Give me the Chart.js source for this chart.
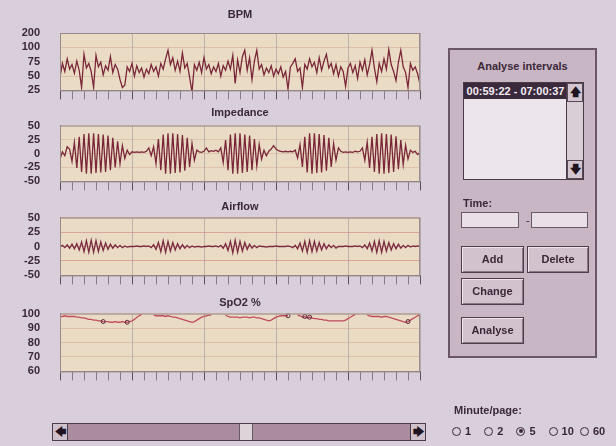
<!DOCTYPE html>
<html lang="en">
<head>
    <meta charset="UTF-8">
    <title>Analyse intervals</title>
    <style>
        body { margin: 0; width: 616px; height: 446px; overflow: hidden; position: relative;
               background: #d9cfdb; font-family: "Liberation Sans", Arial, sans-serif; color: #3a2838; }
        .plot { position: absolute; left: 0; }
        #panel { position: absolute; left: 448px; top: 48px; width: 145px; height: 306px;
                 background: #c9b6c5; border: 2px solid #6a5666; }
        #panel div { position: absolute; }
        .ptitle { left: 0; width: 145px; top: 10px; text-align: center; font-weight: bold; font-size: 11px; }
        .listbox { left: 13px; top: 32px; width: 119px; height: 96px; background: #ece6ec; border: 1px solid #4a3a48; }
        .sel { left: 0; top: 0; width: 103px; height: 16px; background: #3b2a3e; color: #f2ecf2;
               font-size: 11px; font-weight: bold; line-height: 16px; text-align: center; }
        .vbar { right: 0; top: 0; width: 16px; height: 96px; background: #d8ced6; border-left: 1px solid #4a3a48; }
        .arrow { left: 0; width: 14px; height: 17px; background: #d3c6d0; border: 1px solid #5a4a58;
                 font-family: "DejaVu Sans", sans-serif; font-size: 11px; font-weight: bold; text-align: center;
                 line-height: 17px; color: #201420; }
        .lbl { font-weight: bold; font-size: 11px; }
        .inp { height: 14px; background: #e8e0e6; border: 1px solid #6a5866; }
        .btn { height: 25px; background: #d2c2ce; border: 1px solid #4e3e4c; box-shadow: inset 1px 1px 0 #eee4ea, inset -1px -1px 0 #8a7686;
               font-weight: bold; font-size: 11px; text-align: center; line-height: 25px; }
        #minute { position: absolute; left: 454px; top: 404px; font-weight: bold; font-size: 11px; }
        #radios { position: absolute; left: 452px; top: 424px; font-weight: bold; font-size: 11px; white-space: nowrap; }
        #radios span { display: inline-block; vertical-align: middle; }
        .rb { width: 7px; height: 7px; border: 1.5px solid #3a2838; border-radius: 50%; margin-right: 4px; position: relative; }
        .rb.on::after { content: ""; position: absolute; left: 1.5px; top: 1.5px; width: 4px; height: 4px; border-radius: 50%; background: #3a2838; }
        .rt { margin-right: 10px; }
        #hscroll { position: absolute; left: 52px; top: 423px; width: 372px; height: 16px; background: #a98c9d; border: 1px solid #4e3c4c; }
        #hscroll div { position: absolute; top: 0; height: 16px; }
        .harrow { width: 14px; background: #cfc2cc; border-right: 1px solid #4e3c4c; font-family: "DejaVu Sans", sans-serif;
                  font-size: 11px; font-weight: bold; text-align: center; line-height: 16px; color: #201420; }
    </style>
</head>
<body>

    <div class="plot" id="bpmBox" style="top:5px"><canvas id="bpmChart" width="430" height="97"></canvas></div>
    <div class="plot" id="impBox" style="top:104px"><canvas id="impChart" width="430" height="90"></canvas></div>
    <div class="plot" id="airBox" style="top:198px"><canvas id="airChart" width="430" height="90"></canvas></div>
    <div class="plot" id="spoBox" style="top:294px"><canvas id="spoChart" width="430" height="90"></canvas></div>

    <div id="panel">
        <div class="ptitle">Analyse intervals</div>
        <div class="listbox">
            <div class="sel">00:59:22 - 07:00:37</div>
            <div class="vbar">
                <div class="arrow" style="top:0">&#129093;</div>
                <div class="arrow" style="top:77px">&#129095;</div>
            </div>
        </div>
        <div class="lbl" style="left:13px;top:147px">Time:</div>
        <div class="inp" style="left:11px;top:162px;width:56px"></div>
        <div class="lbl" style="left:76px;top:164px;font-weight:normal">-</div>
        <div class="inp" style="left:81px;top:162px;width:55px"></div>
        <div class="btn" style="left:11px;top:196px;width:61px">Add</div>
        <div class="btn" style="left:77px;top:196px;width:60px">Delete</div>
        <div class="btn" style="left:11px;top:228px;width:61px">Change</div>
        <div class="btn" style="left:11px;top:267px;width:61px">Analyse</div>
    </div>

    <div id="minute">Minute/page:</div>
    <div id="radios">
        <span class="rb"></span><span class="rt">1</span>
        <span class="rb"></span><span class="rt">2</span>
        <span class="rb on"></span><span class="rt">5</span>
        <span class="rb"></span><span class="rt" style="margin-right:3px">10</span>
        <span class="rb"></span><span class="rt">60</span>
    </div>

    <div id="hscroll">
        <div class="harrow" style="left:0">&#129092;</div>
        <div style="left:186px;width:12px;background:#ddd4da;border-left:1px solid #6a5866;border-right:1px solid #6a5866"></div>
        <div class="harrow" style="right:0;border-right:none;border-left:1px solid #4e3c4c">&#129094;</div>
    </div>

    <script src="https://cdn.jsdelivr.net/npm/chart.js"></script>
    <script>
        // one sample every 2 s, 5 minutes on the page
        const sampleSec = 2
        const pageSec = 300

        const bpmValues = [
            48,72,58,80,62,70,55,76,60,30, 88,64,72,58,30,86,66,74,52,68,
            60,84,56,70,62,44,30,34,66,58, 72,50,68,56,64,48,62,54,70,58,
            66,50,72,62,80,95,70,82,60,76, 58,90,64,72,48,22,70,60,74,56,
            82,62,70,54,66,58,72,50,68,60, 76,62,86,37,78,56,84,95,60,82,
            44,76,95,62,70,52,64,56,68,50, 62,54,66,48,58,27,66,72,80,58,
            64,30,70,62,80,66,74,56,82,60, 76,88,64,72,54,70,50,66,58,32,
            64,72,56,68,46,74,60,78,52,70, 95,64,40,72,58,80,62,96,70,58,
            42,74,95,66,56,30,72,60,66,54, 36
        ]
        const bpmTickValues = [25, 50, 75, 100, 125]
        const bpmTickLabels = ['25', '50', '75', '100', '200']

        const impedanceValues = [
            -10,3,-4,12,8,-14,20,-26,30,-33, 35,-36,36,-36,36,-35,35,-34,34,-33,
            32,-30,28,-25,22,-18,14,-9,6,-2, 3,2,3,2,3,2,4,10,-4,12,
            -18,26,-30,34,-36,36,-36,36,-35,35, -34,33,-31,28,-24,18,-12,6,3,2,
            4,10,3,5,4,6,3,10,-16,24, -30,34,-36,36,-36,36,-35,34,-33,32,
            -30,26,-22,16,-10,6,-4,4,8,14, 8,5,4,3,4,3,4,3,6,-8,
            16,-24,30,-34,36,-36,36,-35,35,-34, 33,-31,28,-24,18,-12,10,4,2,3,
            2,3,2,4,3,4,10,-12,20,-26, 30,-33,35,-36,36,-36,35,-35,34,-33,
            31,-28,24,-20,15,-10,6,2,4,-2, 2
        ]

        const airflowValues = [
            0,2,-2,3,-3,4,-4,5,-6,8, -9,10,-10,11,-10,10,-9,8,-7,6,
            -5,4,-3,3,-2,2,-2,1,-1,0, 0,0,1,0,0,1,0,1,-2,3,
            -5,7,-9,10,-10,9,-8,7,-6,5, -4,3,-3,2,-2,1,-1,0,0,-1,
            0,0,1,0,0,1,-1,2,-3,5, -7,9,-11,11,-10,9,-8,7,-5,4,
            -3,2,-2,1,0,0,-1,0,0,0, 1,0,0,0,0,1,0,-2,2,-4,
            6,-8,9,-10,10,-9,9,-8,7,-6, 5,-4,3,-2,2,-3,0,0,0,1,
            0,0,0,1,0,1,-2,3,-4,6, -8,9,-10,10,-10,9,-8,7,-6,5,
            -4,4,-3,2,-2,2,-1,1,0,1, 0
        ]

        const spo2Values = [
            98,98,98.5,98,98,98,98,97.5,97.5,97, 97,96.5,96,96,95.5,95.5,95,95,94.5,94.5,
            94.5,94,94,94.5,94,94,94.5,94,94,94.5, 95,96,97.5,98.5,99.5,null,null,null,null,99,
            98.5,98.5,98.5,98.5,98,98.5,98,97.5,97.5,97, 96.5,96,95.5,95,94.5,94,94.5,95.5,96.5,97.5,
            98,98.5,99,99,null,null,null,null,null,99, 98,97.5,97.5,97.5,97.5,97,97.5,97.5,97.5,97,
            97.5,97.5,97,97,96.5,96,95.5,95,95.5,96.5, 97.5,98,98.5,98.5,98.5,98.5,null,null,null,99,
            98.5,97.5,98,97,97.5,97,96.5,96.5,96,96, 95.5,95.5,95,95,95,95,95,95,95,95.5,
            96.5,97.5,98.5,99.5,null,null,null,null,99,98.5, 98,98,98,98,97.5,98,98,97.5,97,96.5,
            96,95.5,95,94.5,94,94.5,95.5,96.5,97.5,98.5, 99
        ]
        // samples that carry a small event marker on the SpO2 trace
        const spo2Marked = [18, 28, 95, 102, 104, 145]

        Chart.defaults.font.family = '"Liberation Sans", Arial, sans-serif'
        Chart.defaults.color = '#3a2838'

        // beige plot area with a thin frame
        const plotFrame = {
            id: 'plotFrame',
            beforeDraw(chart) {
                const a = chart.chartArea, ctx = chart.ctx
                ctx.save()
                ctx.fillStyle = '#eadcc4'
                ctx.fillRect(a.left, a.top, a.right - a.left, a.bottom - a.top)
                ctx.restore()
            },
            afterDraw(chart) {
                const a = chart.chartArea, ctx = chart.ctx
                ctx.save()
                ctx.strokeStyle = '#9a8a8e'
                ctx.lineWidth = 1
                ctx.strokeRect(a.left + 0.5, a.top + 0.5, a.right - a.left - 1, a.bottom - a.top)
                ctx.restore()
            }
        }

        const toPoints = (values) => values.map((v, i) => ({ x: i * sampleSec, y: v }))

        const makeChart = (id, title, values, color, yOpts, titleGap, gridColor, pointRadius) => {
            return new Chart(document.getElementById(id), {
                type: 'line',
                data: {
                    datasets: [{
                        label: title,
                        data: toPoints(values),
                        borderColor: color,
                        borderWidth: 1.3,
                        pointRadius: pointRadius || 0,
                        pointBackgroundColor: 'rgba(0,0,0,0)',
                        pointBorderColor: '#5a2a3a',
                        pointBorderWidth: 1,
                        tension: 0,
                        spanGaps: false
                    }]
                },
                options: {
                    responsive: false,
                    maintainAspectRatio: false,
                    animation: false,
                    events: [],
                    layout: { padding: { top: 0, right: 10, bottom: 0, left: 0 } },
                    plugins: {
                        legend: { display: false },
                        tooltip: { enabled: false },
                        title: {
                            display: true,
                            text: title,
                            fullSize: false,
                            color: '#3a2838',
                            font: { size: 11, weight: 'bold', lineHeight: 1 },
                            padding: { top: 4, bottom: titleGap }
                        }
                    },
                    scales: {
                        x: {
                            type: 'linear',
                            min: 0,
                            max: pageSec,
                            ticks: { stepSize: 10, display: false },
                            grid: {
                                color: c => c.tick && c.tick.value % 60 === 0 ? 'rgba(140,125,125,0.45)' : 'rgba(0,0,0,0)',
                                tickColor: c => c.tick && c.tick.value % 60 === 0 ? '#5e4e5c' : '#8a7a88',
                                tickLength: 9,
                                drawTicks: true
                            },
                            border: { display: true, color: '#8a7a80' },
                            afterFit: s => { s.height = 12 }
                        },
                        y: Object.assign({
                            grid: { color: gridColor, drawTicks: false },
                            border: { display: true, color: '#8a7a80' },
                            afterFit: s => { s.width = 60 }
                        }, yOpts)
                    }
                },
                plugins: [plotFrame]
            })
        }

        // size each canvas so the plot area sits where it does in the screen
        const placeChart = (chart, boxId, plotTop, plotBottom) => {
            const a = chart.chartArea
            const h = Math.round(chart.height + (plotBottom - plotTop) - (a.bottom - a.top))
            chart.resize(430, h)
            document.getElementById(boxId).style.top = Math.round(plotTop - chart.chartArea.top) + 'px'
        }

        const tickFont = { size: 11, weight: 'bold' }

        const bpmChart = makeChart('bpmChart', 'BPM', bpmValues, '#7a2639', {
            min: 25, max: 125,
            afterBuildTicks: s => { s.ticks = bpmTickValues.map(v => ({ value: v })) },
            ticks: { padding: 20, font: tickFont, autoSkip: false, callback: (v) => bpmTickLabels[bpmTickValues.indexOf(v)] }
        }, 13, 'rgba(200,160,140,0.45)')
        placeChart(bpmChart, 'bpmBox', 33, 90)

        const impChart = makeChart('impChart', 'Impedance', impedanceValues, '#7a2639', {
            min: -50, max: 50,
            ticks: { stepSize: 25, padding: 20, font: tickFont, autoSkip: false }
        }, 7, 'rgba(200,160,140,0.4)')
        placeChart(impChart, 'impBox', 126, 182)

        const airChart = makeChart('airChart', 'Airflow', airflowValues, '#7a2a40', {
            min: -50, max: 50,
            ticks: { stepSize: 25, padding: 20, font: tickFont, autoSkip: false }
        }, 5, 'rgba(205,120,120,0.55)')
        placeChart(airChart, 'airBox', 218, 276)

        const spoChart = makeChart('spoChart', 'SpO2 %', spo2Values, '#c04c5e', {
            min: 60, max: 100,
            ticks: { stepSize: 10, padding: 20, font: tickFont, autoSkip: false }
        }, 5, 'rgba(200,160,140,0.45)', spo2Values.map((v, i) => spo2Marked.includes(i) ? 2 : 0))
        placeChart(spoChart, 'spoBox', 314, 372)
    </script>
</body>
</html>
